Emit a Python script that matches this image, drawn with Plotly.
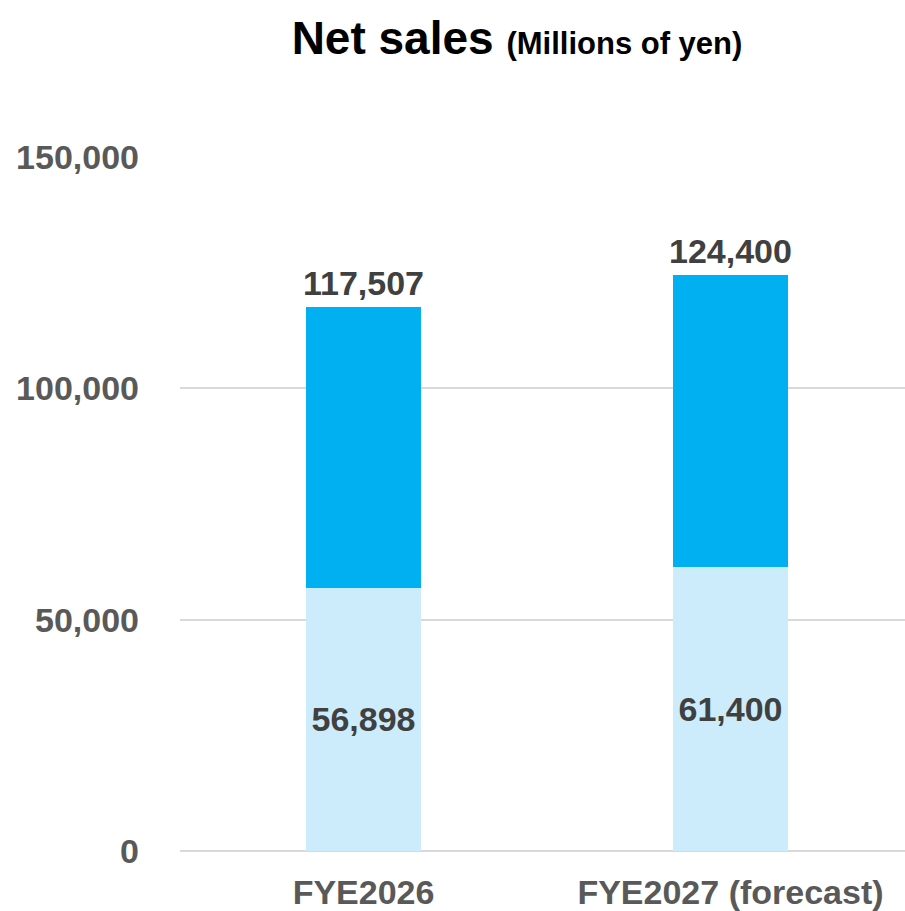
import plotly.graph_objects as go

# Net sales by fiscal year (millions of yen)
categories = ["FYE2026", "FYE2027 (forecast)"]
base_sales = [56898, 61400]
total_sales = [117507, 124400]
upper_sales = [t - b for t, b in zip(total_sales, base_sales)]

y_ticks = [0, 50000, 100000, 150000]
y_tick_text = ["0", "50,000", "100,000", "150,000"]

FONT = "Arial, 'Liberation Sans', sans-serif"
LABEL_COLOR = "#404040"
TICK_COLOR = "#595959"

fig = go.Figure()

fig.add_trace(go.Bar(
    x=categories,
    y=base_sales,
    width=0.313,
    marker=dict(color="#CCECFC", line=dict(width=0)),
    text=[f"{v:,}" for v in base_sales],
    texttemplate="<b>%{text}</b>",
    textposition="inside",
    insidetextanchor="middle",
    textangle=0,
    textfont=dict(family=FONT, size=34, color=LABEL_COLOR),
    hoverinfo="skip",
))

fig.add_trace(go.Bar(
    x=categories,
    y=upper_sales,
    width=0.313,
    marker=dict(color="#00B0F0", line=dict(width=0)),
    textposition="none",
    hoverinfo="skip",
))

# Totals written above each stacked bar
for cat, tot in zip(categories, total_sales):
    fig.add_annotation(
        x=cat, y=tot, text=f"<b>{tot:,}</b>",
        showarrow=False, yanchor="bottom", yshift=3,
        font=dict(family=FONT, size=34, color=LABEL_COLOR),
    )

fig.update_layout(
    barmode="stack",
    width=905,
    height=911,
    margin=dict(l=180, r=0, t=157, b=58),
    paper_bgcolor="white",
    plot_bgcolor="white",
    showlegend=False,
    title=dict(
        text="<b>Net sales</b> <b><span style='font-size:31px'>(Millions of yen)</span></b>",
        x=517 / 905, xanchor="center", xref="container",
        y=1 - 38 / 911, yanchor="middle", yref="container",
        font=dict(family=FONT, size=46, color="#000000"),
    ),
    xaxis=dict(
        type="category",
        range=[-0.5, 1.4755],
        showgrid=False,
        showline=False,
        zeroline=False,
        ticks="",
        tickfont=dict(family=FONT, size=34, color=TICK_COLOR),
        ticklabelstandoff=18,
        tickvals=categories,
        ticktext=[f"<b>{c}</b>" for c in categories],
    ),
    yaxis=dict(
        range=[0, 150000],
        tickvals=y_ticks,
        ticktext=[f"<b>{t}</b>" for t in y_tick_text],
        showgrid=True,
        gridcolor="#D9D9D9",
        gridwidth=2,
        zeroline=True,
        zerolinecolor="#D9D9D9",
        zerolinewidth=2,
        showline=False,
        ticks="",
        ticklabelstandoff=40,
        tickfont=dict(family=FONT, size=34, color=TICK_COLOR),
    ),
)

fig.write_html("out.html")
